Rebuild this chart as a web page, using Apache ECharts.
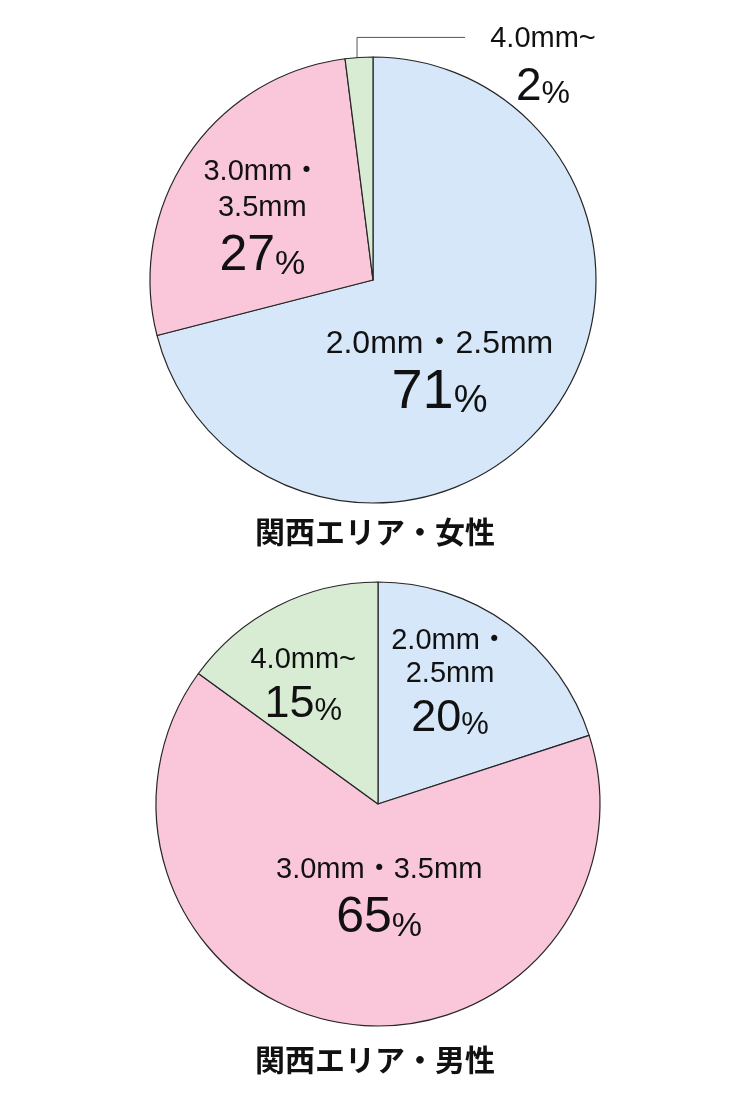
<!DOCTYPE html>
<html>
<head>
<meta charset="utf-8">
<script src="https://cdn.jsdelivr.net/npm/echarts@6/dist/echarts.min.js"></script>
<style>
html, body { margin: 0; padding: 0; background: #ffffff; }
#main { width: 750px; height: 1114px; }
</style>
</head>
<body>
<div id="main"></div>
<script>
// 関西エリア・女性
var femaleNames = ['2.0mm・2.5mm', '3.0mm・3.5mm', '4.0mm~'];
var femaleLabels = ['2.0mm・2.5mm', '3.0mm・\n3.5mm', '4.0mm~'];
var femaleValues = [71, 27, 2];
// 関西エリア・男性
var maleNames = ['2.0mm・2.5mm', '3.0mm・3.5mm', '4.0mm~'];
var maleLabels = ['2.0mm・\n2.5mm', '3.0mm・3.5mm', '4.0mm~'];
var maleValues = [20, 65, 15];

var titles = ['関西エリア・女性', '関西エリア・男性'];
var colors = ['#d5e7f8', '#f9c6da', '#d7ecd3'];

// 文字サイズの種類 (L:大 / M:中 / S:小 / X:引き出し)
var femaleSizes = ['L', 'M', 'X'];
var maleSizes = ['S', 'M', 'S'];
// ラベルのずらし量
var femaleShift = [[-24, 22], [-16, 2], null];
var maleShift = [[5, -29], [19, -19], [-23, -17]];

var font = '"Liberation Sans", Arial, "Noto Sans CJK JP", sans-serif';

function makeData(names, values, labels) {
    var out = [];
    for (var i = 0; i < names.length; i++) {
        out.push({
            name: names[i],
            value: values[i],
            labelText: labels[i],
            itemStyle: { color: colors[i] }
        });
    }
    return out;
}

var rich = {
    nL: { fontSize: 32, lineHeight: 40, color: '#111', fontFamily: font },
    nM: { fontSize: 29, lineHeight: 36, color: '#111', fontFamily: font },
    nS: { fontSize: 29, lineHeight: 33, color: '#111', fontFamily: font },
    nX: { fontSize: 29, lineHeight: 33, color: '#111', fontFamily: font },
    pL: { fontSize: 56, lineHeight: 56, color: '#111', fontFamily: font, verticalAlign: 'bottom' },
    pM: { fontSize: 50, lineHeight: 56, color: '#111', fontFamily: font, verticalAlign: 'bottom' },
    pS: { fontSize: 45, lineHeight: 50, color: '#111', fontFamily: font, verticalAlign: 'bottom' },
    pX: { fontSize: 46, lineHeight: 54, color: '#111', fontFamily: font, verticalAlign: 'bottom' },
    sL: { fontSize: 38, lineHeight: 56, color: '#111', fontFamily: font, verticalAlign: 'bottom' },
    sM: { fontSize: 34, lineHeight: 56, color: '#111', fontFamily: font, verticalAlign: 'bottom' },
    sS: { fontSize: 31, lineHeight: 50, color: '#111', fontFamily: font, verticalAlign: 'bottom' },
    sX: { fontSize: 32, lineHeight: 54, color: '#111', fontFamily: font, verticalAlign: 'bottom' }
};

function labelFormatter(sizes) {
    return function (p) {
        var k = sizes[p.dataIndex];
        var lines = p.data.labelText.split('\n');
        var txt = lines.map(function (l) { return '{n' + k + '|' + l + '}'; }).join('\n');
        return txt + '\n{p' + k + '|' + p.value + '}{s' + k + '|%}';
    };
}

function layoutFn(shift) {
    return function (params) {
        var s = shift[params.dataIndex];
        if (s) {
            return { dx: s[0], dy: s[1] };
        }
        // 小さい扇形は引き出し線で右上へ
        var r = params.rect;
        var lx = r.x + r.width / 2 - 2;
        return {
            x: lx + 186,
            y: r.y + 10,
            align: 'center',
            verticalAlign: 'middle',
            labelLinePoints: [[lx, r.y + 31], [lx, r.y - 19], [lx + 108, r.y - 19]]
        };
    };
}

var femaleData = makeData(femaleNames, femaleValues, femaleLabels);
femaleData[2].label = { position: 'outside' };
femaleData[2].labelLine = { show: true, showAbove: true, length: 20, length2: 100, lineStyle: { color: '#555', width: 1 } };

var maleData = makeData(maleNames, maleValues, maleLabels);

var chart = echarts.init(document.getElementById('main'));

var option = {
    animation: false,
    backgroundColor: '#ffffff',
    title: [
        {
            text: titles[0],
            left: 'center',
            top: 512,
            textStyle: { fontFamily: '"Noto Sans CJK JP", sans-serif', fontSize: 30, fontWeight: 'bold', color: '#111' }
        },
        {
            text: titles[1],
            left: 'center',
            top: 1040,
            textStyle: { fontFamily: '"Noto Sans CJK JP", sans-serif', fontSize: 30, fontWeight: 'bold', color: '#111' }
        }
    ],
    series: [
        {
            name: titles[0],
            type: 'pie',
            center: [373, 280],
            radius: 223,
            startAngle: 90,
            clockwise: true,
            avoidLabelOverlap: false,
            silent: true,
            itemStyle: { borderColor: '#262626', borderWidth: 1.2 },
            label: { show: true, position: 'inside', formatter: labelFormatter(femaleSizes), rich: rich },
            labelLine: { show: false, showAbove: true },
            labelLayout: layoutFn(femaleShift),
            emphasis: { disabled: true },
            data: femaleData
        },
        {
            name: titles[1],
            type: 'pie',
            center: [378, 804],
            radius: 222,
            startAngle: 90,
            clockwise: true,
            avoidLabelOverlap: false,
            silent: true,
            itemStyle: { borderColor: '#262626', borderWidth: 1.2 },
            label: { show: true, position: 'inside', formatter: labelFormatter(maleSizes), rich: rich },
            labelLine: { show: false },
            labelLayout: layoutFn(maleShift),
            emphasis: { disabled: true },
            data: maleData
        }
    ]
};

chart.setOption(option);
</script>
</body>
</html>
